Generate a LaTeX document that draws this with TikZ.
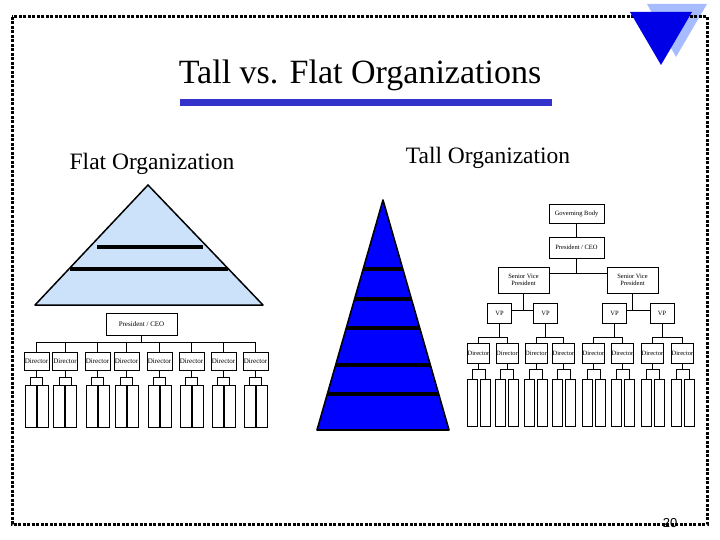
\documentclass[tikz,border=0pt]{standalone}
\usepackage{fontspec}
\setmainfont{Liberation Serif}
\newfontfamily\pagenumfont{Liberation Sans}
\usepackage{tikz}
\usetikzlibrary{positioning, calc}
\definecolor{titlebar}{RGB}{51,51,204}
\definecolor{flatfill}{RGB}{204,226,250}
\definecolor{tallblue}{RGB}{0,0,255}
\definecolor{cornerlight}{RGB}{166,188,255}
\definecolor{cornerdark}{RGB}{0,0,230}

\begin{document}
\begin{tikzpicture}[x=1pt, y=-1pt,
  orgbox/.style={draw, line width=0.9pt, inner sep=0pt, align=center, font=\fontsize{6.5}{7}\selectfont},
  dirbox/.style={orgbox, minimum width=22pt, minimum height=20pt},
  subbox/.style={draw, line width=0.9pt, inner sep=0pt, minimum width=10pt},
  link/.style={line width=0.9pt}]
  \useasboundingbox (0,0) rectangle (720,540);
  % Corner mark and frame
  \fill[cornerlight] (647,4) -- (707,4) -- (676,57) -- cycle;
  \draw[line width=3pt, dash pattern=on 3pt off 1.5pt] (12,17) rectangle (707,524);
  \fill[cornerdark] (630,12) -- (692,12) -- (661,65) -- cycle;
  \node[anchor=base, font=\pagenumfont\fontsize{13}{13}\selectfont] (pagenum) at (670,527) {20};
  % Title
  \node[anchor=base, font=\fontsize{34}{36}\selectfont] (title) at (360,84) {Tall vs. Flat Organizations};
  \fill[titlebar] (180,99) rectangle (552,106);
  \node[anchor=base, font=\fontsize{23.5}{26}\selectfont] (flathead) at (152,170) {Flat Organization};
  \node[anchor=base, font=\fontsize{23.5}{26}\selectfont] (tallhead) at (488,164) {Tall Organization};
  % Flat pyramid
  \draw[fill=flatfill, line width=1.5pt, line join=round] (148,185) -- (263,305) -- (35,305) -- cycle;
  \draw[line width=4pt] (97,247) -- (203,247);
  \draw[line width=4pt] (70,269) -- (228,269);
  % Tall pyramid
  \begin{scope}
    \clip (383,200) -- (449,430) -- (317,430) -- cycle;
    \fill[tallblue] (383,200) -- (449,430) -- (317,430) -- cycle;
    \foreach \y in {269,299,328,365,394}
      \draw[line width=4pt] (300,\y) -- (460,\y);
  \end{scope}
  \draw[line width=1.6pt, line join=round] (383,200) -- (449,430) -- (317,430) -- cycle;
  % Flat chart
  \node[orgbox, minimum width=71pt, minimum height=22pt, font=\fontsize{7}{8}\selectfont] (fceo) at (141.5,324) {President / CEO};
  \coordinate (fbus) at (141.5,342);
  \foreach \x [count=\i] in {36.5,65,97.5,126.5,159.5,191.5,223.5,255.5} {
    \node[dirbox, minimum width=25pt, minimum height=18pt, font=\fontsize{7}{8}\selectfont] (fd\i) at (\x,361) {Director};
    \node[subbox, minimum width=11pt, minimum height=42pt] (fs\i-a) at (\x-6,406) {};
    \node[subbox, minimum width=11pt, minimum height=42pt] (fs\i-b) at (\x+6,406) {};
    \draw[link] (fceo.south) -- (fbus) -| (fd\i.north);
    \draw[link] (fd\i.south) -- ++(0,7) -| (fs\i-a.north);
    \draw[link] (fd\i.south) -- ++(0,7) -| (fs\i-b.north);
  }
  % Tall chart
  \node[orgbox, minimum width=55pt, minimum height=19pt] (gov) at (576.5,213.5) {Governing Body};
  \node[orgbox, minimum width=55pt, minimum height=21pt] (pres) at (576.5,247.5) {President / CEO};
  \node[orgbox, minimum width=51pt, minimum height=26pt] (svp1) at (523.5,280) {Senior Vice\\President};
  \node[orgbox, minimum width=51pt, minimum height=26pt] (svp2) at (632.5,280) {Senior Vice\\President};
  \draw[link] (gov) -- (pres);
  \coordinate (svpbus) at ([yshift=7pt]svp1.east);
  \draw[link] (svpbus) -- ([yshift=7pt]svp2.west);
  \draw[link] (pres.south) -- (pres.south |- svpbus);
  \foreach \x/\p [count=\i] in {499.5/1,545.5/1,614.5/2,662/2}
    \node[orgbox, minimum width=24pt, minimum height=20pt] (vp\i) at (\x,313) {VP};
  \coordinate (vpbus1) at ([yshift=3pt]vp1.east);
  \coordinate (vpbus2) at ([yshift=3pt]vp3.east);
  \draw[link] (vpbus1) -- ([yshift=3pt]vp2.west);
  \draw[link] (vpbus2) -- ([yshift=3pt]vp4.west);
  \draw[link] (svp1.south) -- (svp1.south |- vpbus1);
  \draw[link] (svp2.south) -- (svp2.south |- vpbus2);
  \foreach \x/\p [count=\i] in {478.5/1,507/1,536/2,563.5/2,593.5/3,622.5/3,652.5/4,682.5/4} {
    \node[dirbox] (td\i) at (\x,353) {Director};
    \node[subbox, minimum height=47pt] (ts\i-a) at (\x-6.5,402.5) {};
    \node[subbox, minimum height=47pt] (ts\i-b) at (\x+6.5,402.5) {};
    \draw[link] (vp\p.south) -- ++(0,14) -| (td\i.north);
    \draw[link] (td\i.south) -- ++(0,6) -| (ts\i-a.north);
    \draw[link] (td\i.south) -- ++(0,6) -| (ts\i-b.north);
  }
\end{tikzpicture}
\end{document}
